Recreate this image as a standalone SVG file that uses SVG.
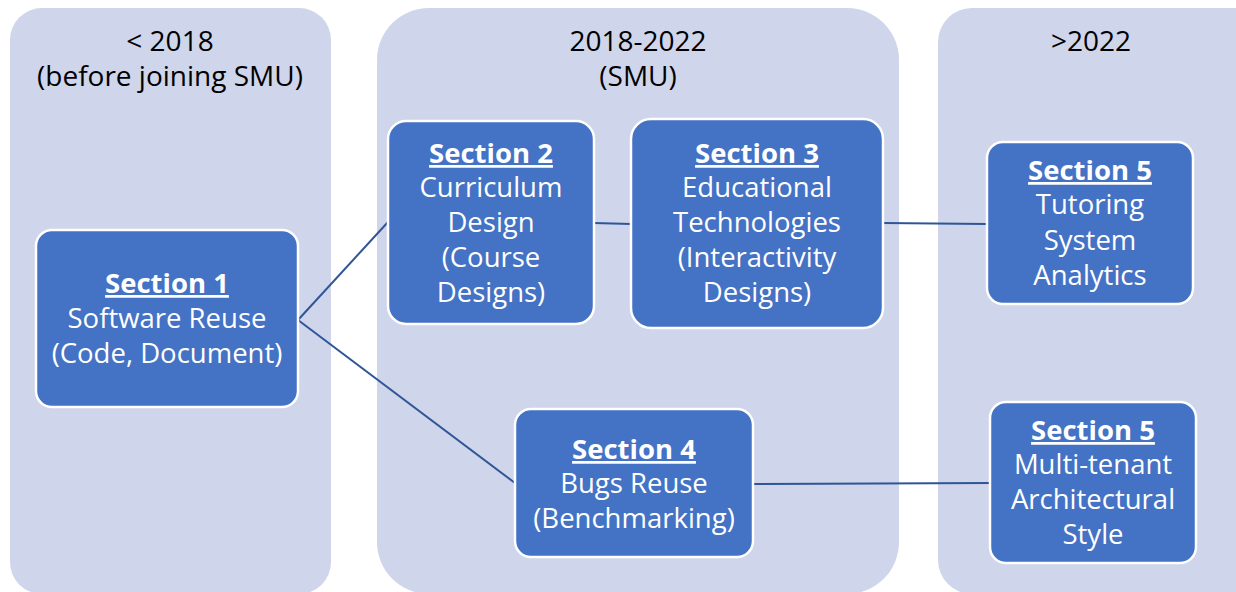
<svg xmlns="http://www.w3.org/2000/svg" width="1236" height="592" viewBox="0 0 1236 592">
<style>
.col{fill:#CFD5EA;}
.node{fill:#4472C4;stroke:#FFFFFF;stroke-width:2.5;}
.hdr{font-family:"Open Sans","Noto Sans",sans-serif;font-size:28px;fill:#000000;text-anchor:middle;}
.t{font-family:"Open Sans","Noto Sans",sans-serif;font-size:27.5px;fill:#FFFFFF;text-anchor:middle;}
.b{font-weight:bold;text-decoration:underline;}
.conn{stroke:#2F5597;stroke-width:2;fill:none;}
</style>
<rect width="1236" height="592" fill="#FFFFFF"/>
<g id="columns">
<rect class="col" x="10" y="8" width="321" height="586" rx="32"/>
<rect class="col" x="377" y="8" width="522" height="586" rx="52"/>
<rect class="col" x="938" y="8" width="330" height="586" rx="34"/>
<text class="hdr" x="170" y="51">&lt; 2018</text>
<text class="hdr" x="170" y="86">(before joining SMU)</text>
<text class="hdr" x="638" y="51">2018-2022</text>
<text class="hdr" x="638" y="86">(SMU)</text>
<text class="hdr" x="1091" y="51">&gt;2022</text>
</g>
<g id="connectors">
<line class="conn" x1="298" y1="320" x2="388" y2="222"/>
<line class="conn" x1="298" y1="320" x2="515" y2="483"/>
<line class="conn" x1="594" y1="223" x2="631" y2="224"/>
<line class="conn" x1="883" y1="223" x2="987" y2="224"/>
<line class="conn" x1="753" y1="484" x2="990" y2="483"/>
</g>
<g id="section1">
<rect class="node" x="36" y="230" width="262" height="177" rx="16"/>
<text class="t b" x="167" y="293">Section 1</text>
<text class="t" x="167" y="328">Software Reuse</text>
<text class="t" x="167" y="363">(Code, Document)</text>
</g>
<g id="section2">
<rect class="node" x="388" y="121" width="206" height="203" rx="18"/>
<text class="t b" x="491" y="163">Section 2</text>
<text class="t" x="491" y="197">Curriculum</text>
<text class="t" x="491" y="232">Design</text>
<text class="t" x="491" y="267">(Course</text>
<text class="t" x="491" y="302">Designs)</text>
</g>
<g id="section3">
<rect class="node" x="631" y="119" width="252" height="209" rx="20"/>
<text class="t b" x="757" y="163">Section 3</text>
<text class="t" x="757" y="197">Educational</text>
<text class="t" x="757" y="232">Technologies</text>
<text class="t" x="757" y="267">(Interactivity</text>
<text class="t" x="757" y="302">Designs)</text>
</g>
<g id="section5a">
<rect class="node" x="987" y="142" width="206" height="162" rx="16"/>
<text class="t b" x="1090" y="180">Section 5</text>
<text class="t" x="1090" y="214">Tutoring</text>
<text class="t" x="1090" y="250">System</text>
<text class="t" x="1090" y="285">Analytics</text>
</g>
<g id="section4">
<rect class="node" x="515" y="409" width="238" height="148" rx="16"/>
<text class="t b" x="634" y="459">Section 4</text>
<text class="t" x="634" y="493">Bugs Reuse</text>
<text class="t" x="634" y="528">(Benchmarking)</text>
</g>
<g id="section5b">
<rect class="node" x="990" y="402" width="206" height="161" rx="16"/>
<text class="t b" x="1093" y="440">Section 5</text>
<text class="t" x="1093" y="474">Multi-tenant</text>
<text class="t" x="1093" y="509">Architectural</text>
<text class="t" x="1093" y="544">Style</text>
</g>
</svg>
